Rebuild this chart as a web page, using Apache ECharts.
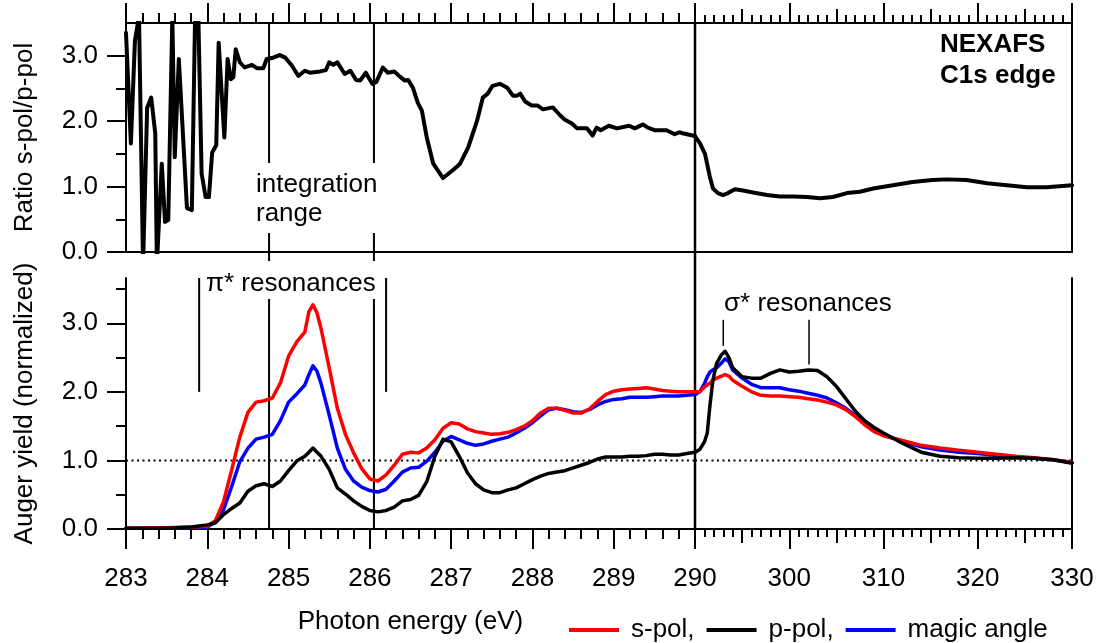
<!DOCTYPE html>
<html>
<head>
<meta charset="utf-8">
<script src="https://cdn.jsdelivr.net/npm/echarts@6/dist/echarts.min.js"></script>
<style>
  html, body { margin: 0; padding: 0; background: #ffffff; }
  #chart { width: 1098px; height: 643px; }
</style>
</head>
<body>
<div id="chart"></div>
<script>
// ---- Ratio s-pol / p-pol (upper panel), below and above the 290 eV break ----
const ratioLowE = [283.0, 283.06, 283.11, 283.16, 283.21, 283.26, 283.31, 283.36, 283.38, 283.44, 283.48, 283.52, 283.57, 283.6, 283.65, 283.75, 283.81, 283.85, 283.89, 283.93, 283.98, 284.02, 284.06, 284.11, 284.14, 284.21, 284.25, 284.29, 284.32, 284.35, 284.4, 284.46, 284.55, 284.61, 284.69, 284.73, 284.81, 284.89, 284.96, 285.04, 285.12, 285.2, 285.26, 285.39, 285.46, 285.5, 285.55, 285.6, 285.69, 285.76, 285.83, 285.88, 285.95, 286.03, 286.08, 286.16, 286.22, 286.3, 286.37, 286.43, 286.47, 286.53, 286.59, 286.64, 286.7, 286.78, 286.9, 287.02, 287.11, 287.21, 287.32, 287.39, 287.45, 287.51, 287.6, 287.69, 287.76, 287.81, 287.85, 287.91, 287.99, 288.06, 288.13, 288.25, 288.34, 288.4, 288.49, 288.55, 288.67, 288.74, 288.79, 288.84, 288.94, 289.04, 289.19, 289.26, 289.36, 289.42, 289.51, 289.65, 289.75, 289.81, 289.86, 289.97, 290.0];
const ratioLow = [3.35, 1.66, 3.23, 3.6, -0.2, 2.2, 2.36, 1.81, -0.2, 1.35, 0.46, 0.49, 3.6, 1.45, 2.95, 0.67, 0.64, 3.6, 3.6, 1.2, 0.84, 0.84, 1.52, 1.63, 3.2, 1.75, 2.95, 2.64, 2.67, 3.1, 2.9, 2.82, 2.86, 2.81, 2.81, 2.95, 2.97, 3.01, 2.97, 2.85, 2.69, 2.77, 2.74, 2.76, 2.78, 2.9, 2.86, 2.9, 2.72, 2.77, 2.63, 2.62, 2.74, 2.57, 2.6, 2.82, 2.74, 2.76, 2.68, 2.62, 2.63, 2.51, 2.28, 2.16, 1.75, 1.35, 1.13, 1.25, 1.35, 1.6, 2.01, 2.36, 2.42, 2.54, 2.57, 2.51, 2.39, 2.39, 2.42, 2.3, 2.24, 2.24, 2.18, 2.21, 2.09, 2.02, 1.96, 1.89, 1.89, 1.78, 1.9, 1.86, 1.93, 1.89, 1.93, 1.89, 1.95, 1.9, 1.86, 1.86, 1.8, 1.83, 1.81, 1.78, 1.77];
const ratioHighE = [290, 290.53, 291.06, 291.59, 291.91, 292.44, 292.97, 293.5, 294.24, 295.09, 296.15, 297.64, 299.01, 300.39, 301.88, 303.26, 304.63, 306.12, 307.5, 308.9, 311, 313.1, 315.2, 316.7, 318.8, 321, 323.1, 325.2, 327.3, 330];
const ratioHigh = [1.77, 1.66, 1.5, 1.14, 0.97, 0.9, 0.87, 0.9, 0.96, 0.94, 0.91, 0.87, 0.85, 0.85, 0.84, 0.82, 0.84, 0.9, 0.92, 0.97, 1.02, 1.07, 1.1, 1.11, 1.1, 1.05, 1.02, 0.99, 0.99, 1.02];

// ---- Auger yield (lower panel) ----
const augerLowE = [283.0, 283.5, 283.8, 284.0, 284.1, 284.2, 284.3, 284.4, 284.5, 284.6, 284.7, 284.8, 284.9, 285.0, 285.1, 285.2, 285.25, 285.3, 285.35, 285.4, 285.5, 285.6, 285.7, 285.8, 285.9, 286.0, 286.1, 286.2, 286.3, 286.4, 286.5, 286.6, 286.7, 286.8, 286.9, 287.0, 287.1, 287.2, 287.3, 287.4, 287.5, 287.6, 287.7, 287.8, 287.9, 288.0, 288.1, 288.2, 288.3, 288.4, 288.5, 288.6, 288.7, 288.8, 288.9, 289.0, 289.1, 289.2, 289.3, 289.4, 289.5, 289.6, 289.7, 289.8, 289.9, 290.0];
const sPolLow = [0.01, 0.02, 0.03, 0.04, 0.12, 0.40, 0.86, 1.34, 1.70, 1.85, 1.87, 1.91, 2.13, 2.52, 2.73, 2.87, 3.17, 3.27, 3.15, 2.92, 2.35, 1.76, 1.38, 1.11, 0.88, 0.73, 0.70, 0.79, 0.93, 1.09, 1.12, 1.11, 1.18, 1.30, 1.47, 1.55, 1.53, 1.46, 1.42, 1.40, 1.38, 1.39, 1.41, 1.45, 1.50, 1.58, 1.69, 1.76, 1.76, 1.73, 1.69, 1.69, 1.75, 1.86, 1.96, 2.01, 2.03, 2.04, 2.05, 2.06, 2.04, 2.02, 2.01, 2.00, 2.00, 2.00];
const pPolLow = [0.01, 0.01, 0.03, 0.06, 0.09, 0.21, 0.30, 0.38, 0.55, 0.63, 0.66, 0.62, 0.70, 0.85, 0.99, 1.06, 1.12, 1.18, 1.12, 1.06, 0.87, 0.60, 0.51, 0.41, 0.33, 0.27, 0.25, 0.27, 0.32, 0.41, 0.43, 0.49, 0.69, 1.06, 1.31, 1.27, 1.06, 0.82, 0.66, 0.57, 0.53, 0.53, 0.57, 0.60, 0.66, 0.72, 0.77, 0.81, 0.83, 0.85, 0.89, 0.93, 0.97, 1.02, 1.05, 1.05, 1.05, 1.06, 1.06, 1.07, 1.09, 1.09, 1.08, 1.08, 1.10, 1.12];
const magicLow = [0.01, 0.01, 0.02, 0.03, 0.10, 0.28, 0.62, 0.98, 1.18, 1.31, 1.34, 1.38, 1.58, 1.85, 1.97, 2.10, 2.25, 2.38, 2.30, 2.12, 1.66, 1.18, 0.87, 0.70, 0.61, 0.56, 0.54, 0.58, 0.70, 0.83, 0.89, 0.90, 0.99, 1.12, 1.28, 1.35, 1.30, 1.25, 1.22, 1.24, 1.28, 1.31, 1.34, 1.40, 1.47, 1.55, 1.65, 1.74, 1.76, 1.74, 1.71, 1.70, 1.74, 1.81, 1.86, 1.89, 1.90, 1.92, 1.92, 1.92, 1.93, 1.94, 1.94, 1.94, 1.95, 1.96];
const augerHighE = [290, 290.5, 291, 291.3, 291.6, 291.9, 292.3, 292.8, 293.2, 293.6, 294, 295, 296, 297, 298, 299, 300, 301, 302, 303, 304, 305, 306, 307, 308, 309, 310, 312, 314, 316, 318, 320, 322, 324, 326, 328, 330];
const sPolHigh = [2.00, 2.00, 2.07, 2.10, 2.13, 2.17, 2.20, 2.23, 2.25, 2.23, 2.17, 2.08, 2.00, 1.95, 1.94, 1.94, 1.93, 1.92, 1.90, 1.88, 1.85, 1.81, 1.74, 1.64, 1.52, 1.42, 1.36, 1.29, 1.22, 1.18, 1.15, 1.12, 1.09, 1.06, 1.04, 1.01, 0.97];
const pPolHigh = [1.12, 1.16, 1.27, 1.40, 1.82, 2.17, 2.42, 2.54, 2.59, 2.50, 2.35, 2.22, 2.20, 2.20, 2.27, 2.32, 2.29, 2.30, 2.32, 2.31, 2.22, 2.08, 1.90, 1.72, 1.58, 1.48, 1.40, 1.25, 1.12, 1.06, 1.04, 1.03, 1.03, 1.04, 1.03, 1.01, 0.96];
const magicHigh = [1.96, 2.00, 2.12, 2.22, 2.29, 2.32, 2.35, 2.42, 2.48, 2.44, 2.32, 2.20, 2.11, 2.06, 2.06, 2.06, 2.03, 2.01, 1.98, 1.95, 1.91, 1.84, 1.76, 1.66, 1.54, 1.44, 1.37, 1.28, 1.20, 1.15, 1.12, 1.10, 1.07, 1.05, 1.03, 1.01, 0.97];

// ---- Reference energies and levels ----
const integrationRange = [284.76, 286.05];
const edgeBreak = 290;
const piMarkers = [283.9, 286.2];
const sigmaMarkers = [293.0, 302.1];
const unityLevel = 1.0;
const ratioTicks = [0, 1, 2, 3];
const ratioMinorTicks = [0.5, 1.5, 2.5];
const augerTicks = [0, 1, 2, 3];
const augerMinorTicks = [0.5, 1.5, 2.5, 3.5];

const FONT = "'Liberation Sans', Arial, Helvetica, sans-serif";
const BLACK = '#000000', RED = '#ff0000', BLUE = '#0000ff';
const AX = { color: BLACK, width: 2 };
const TOP_MAX = 3.5, BOTTOM_MAX = 3.66;
const BRIDGE = -0.4; // upper-panel value that reaches the lower panel's top edge

const pairs = (xs, ys) => xs.map((x, i) => [x, ys[i]]);

function xAxis(gridIndex, position, min, max, opts) {
  return Object.assign({
    gridIndex, position, type: 'value', min, max,
    axisLine: { show: true, onZero: false, lineStyle: AX },
    axisTick: { show: false },
    axisLabel: { show: false },
    splitLine: { show: false },
    minorSplitLine: { show: false }
  }, opts);
}
function yAxis(gridIndex, position, max, opts) {
  return Object.assign({
    gridIndex, position, type: 'value', min: 0, max,
    axisLine: { show: true, onZero: false, lineStyle: AX },
    axisTick: { show: false },
    axisLabel: { show: false },
    splitLine: { show: false }
  }, opts);
}
const tickLabel = { show: true, fontSize: 26, fontFamily: FONT, color: BLACK };

const xAxes = [
  // 0: upper panel, 283-290, ticks on the top edge
  xAxis(0, 'top', 283, edgeBreak, { interval: 1,
    axisTick: { show: true, length: 20, lineStyle: AX },
    minorTick: { show: true, splitNumber: 5, length: 10, lineStyle: AX } }),
  // 1: upper panel, 283-290, bottom frame
  xAxis(0, 'bottom', 283, edgeBreak, {}),
  // 2: upper panel, 290-330, top edge
  xAxis(1, 'top', edgeBreak, 330, { interval: 10,
    axisTick: { show: true, length: 20, lineStyle: AX },
    minorTick: { show: true, splitNumber: 10, length: 8, lineStyle: AX } }),
  // 3: upper panel, 290-330, 5 eV ticks
  xAxis(1, 'top', edgeBreak, 330, { interval: 5, axisLine: { show: false, onZero: false },
    axisTick: { show: true, length: 14, lineStyle: AX } }),
  // 4: upper panel, 290-330, bottom frame
  xAxis(1, 'bottom', edgeBreak, 330, {}),
  // 5: lower panel, 283-290
  xAxis(2, 'bottom', 283, edgeBreak, { interval: 1,
    axisTick: { show: true, length: 20, lineStyle: AX },
    minorTick: { show: true, splitNumber: 5, length: 10, lineStyle: AX },
    axisLabel: Object.assign({ margin: 37 }, tickLabel),
    name: 'Photon energy (eV)', nameLocation: 'middle', nameGap: 80,
    nameTextStyle: { fontSize: 26, fontFamily: FONT, color: BLACK } }),
  // 6: lower panel, 290-330
  xAxis(3, 'bottom', edgeBreak, 330, { interval: 10,
    axisTick: { show: true, length: 20, lineStyle: AX },
    minorTick: { show: true, splitNumber: 10, length: 8, lineStyle: AX },
    axisLabel: Object.assign({ margin: 37, formatter: v => (v === edgeBreak ? '' : String(v)) }, tickLabel) }),
  // 7: lower panel, 290-330, 5 eV ticks
  xAxis(3, 'bottom', edgeBreak, 330, { interval: 5, axisLine: { show: false, onZero: false },
    axisTick: { show: true, length: 14, lineStyle: AX } })
];

const yAxes = [
  // 0: ratio axis
  yAxis(0, 'left', TOP_MAX, {
    axisTick: { show: true, length: 19, lineStyle: AX, customValues: ratioTicks },
    axisLabel: Object.assign({ margin: 28, customValues: ratioTicks, formatter: v => v.toFixed(1) }, tickLabel),
    name: 'Ratio s-pol/p-pol', nameLocation: 'middle', nameGap: 88,
    nameTextStyle: { fontSize: 26, fontFamily: FONT, color: BLACK } }),
  // 1: ratio minor ticks
  yAxis(0, 'left', TOP_MAX, { axisLine: { show: false, onZero: false },
    axisTick: { show: true, length: 10, lineStyle: AX, customValues: ratioMinorTicks } }),
  // 2: upper panel right frame
  yAxis(1, 'right', TOP_MAX, {}),
  // 3: Auger yield axis
  yAxis(2, 'left', BOTTOM_MAX, {
    axisTick: { show: true, length: 19, lineStyle: AX, customValues: augerTicks },
    axisLabel: Object.assign({ margin: 28, customValues: augerTicks, formatter: v => v.toFixed(1) }, tickLabel),
    name: 'Auger yield (normalized)', nameLocation: 'middle', nameGap: 88,
    nameTextStyle: { fontSize: 26, fontFamily: FONT, color: BLACK } }),
  // 4: Auger minor ticks
  yAxis(2, 'left', BOTTOM_MAX, { axisLine: { show: false, onZero: false },
    axisTick: { show: true, length: 10, lineStyle: AX, customValues: augerMinorTicks } }),
  // 5: lower panel right frame
  yAxis(3, 'right', BOTTOM_MAX, {})
];

// axis index pairs for the four plotting areas
const UL = [0, 0], UR = [2, 2], LL = [5, 3], LR = [6, 5];

function curve(name, area, data, color, width, z) {
  return { name, type: 'line', xAxisIndex: area[0], yAxisIndex: area[1], data,
    symbol: 'none', showSymbol: false, clip: true, silent: true, z,
    lineStyle: { color, width, join: 'round', cap: 'round' }, itemStyle: { color } };
}
function rule(area, x, y0, y1, width, z) {
  return { type: 'line', xAxisIndex: area[0], yAxisIndex: area[1], data: [[x, y0], [x, y1]],
    symbol: 'none', clip: false, silent: true, z: z || 1,
    lineStyle: { color: BLACK, width }, itemStyle: { color: BLACK } };
}

const series = [];
// integration range and absorption edge break, crossing both panels
integrationRange.forEach(e => {
  series.push(rule(UL, e, TOP_MAX, BRIDGE, 2));
  series.push(rule(LL, e, 0, BOTTOM_MAX, 2));
});
series.push(rule(UL, edgeBreak, TOP_MAX, BRIDGE, 2.5));
series.push(rule(LL, edgeBreak, 0, BOTTOM_MAX, 2.5));
// resonance markers
piMarkers.forEach(e => series.push(rule(LL, e, 2.0, BOTTOM_MAX, 2)));
series.push(rule(LR, sigmaMarkers[0], 2.67, 3.05, 1.5));
series.push(rule(LR, sigmaMarkers[1], 2.40, 3.05, 1.5));
// unity level
[[LL, 283, edgeBreak], [LR, edgeBreak, 330]].forEach(([a, x0, x1]) => {
  series.push({ type: 'line', xAxisIndex: a[0], yAxisIndex: a[1],
    data: [[x0, unityLevel], [x1, unityLevel]], symbol: 'none', silent: true, z: 1,
    lineStyle: { color: BLACK, width: 2, type: [2, 3.5] } });
});
// ratio
series.push(curve('ratio', UL, pairs(ratioLowE, ratioLow), BLACK, 4, 5));
series.push(curve('ratio', UR, pairs(ratioHighE, ratioHigh), BLACK, 4, 5));
// Auger yields
series.push(curve('magic angle', LL, pairs(augerLowE, magicLow), BLUE, 3.5, 4));
series.push(curve('magic angle', LR, pairs(augerHighE, magicHigh), BLUE, 3.5, 4));
series.push(curve('s-pol', LL, pairs(augerLowE, sPolLow), RED, 3.5, 5));
series.push(curve('s-pol', LR, pairs(augerHighE, sPolHigh), RED, 3.5, 5));
series.push(curve('p-pol', LL, pairs(augerLowE, pPolLow), BLACK, 3.5, 6));
series.push(curve('p-pol', LR, pairs(augerHighE, pPolHigh), BLACK, 3.5, 6));

const txt = (size, weight) => `${weight || 'normal'} ${size}px ${FONT}`;

const option = {
  animation: false,
  backgroundColor: '#ffffff',
  grid: [
    { left: 126, top: 23, width: 569, height: 229 },
    { left: 695, top: 23, width: 377, height: 229 },
    { left: 126, top: 278, width: 569, height: 251 },
    { left: 695, top: 278, width: 377, height: 251 }
  ],
  xAxis: xAxes,
  yAxis: yAxes,
  legend: {
    data: ['s-pol', 'p-pol', 'magic angle'],
    left: 564, top: 612, icon: 'rect', itemWidth: 50, itemHeight: 4, itemGap: 12,
    selectedMode: false,
    formatter: n => (n === 'magic angle' ? n : n + ','),
    textStyle: { fontSize: 26, fontFamily: FONT, color: BLACK, padding: [0, 0, 0, 7] }
  },
  graphic: [
    { type: 'text', left: 252, top: 163, z: 100, silent: true,
      style: { text: 'integration\nrange', font: txt(26), fill: BLACK, lineHeight: 29,
        backgroundColor: '#ffffff', padding: [7, 4, 5, 4] } },
    { type: 'text', left: 203, top: 261, z: 100, silent: true,
      style: { text: 'π* resonances', font: txt(26), fill: BLACK, lineHeight: 28,
        backgroundColor: '#ffffff', padding: [9, 3, 1, 3] } },
    { type: 'text', left: 724, top: 290, z: 100, silent: true,
      style: { text: 'σ* resonances', font: txt(26), fill: BLACK, lineHeight: 28 } },
    { type: 'text', left: 940, top: 29, z: 100, silent: true,
      style: { text: 'NEXAFS\nC1s edge', font: txt(26, 'bold'), fill: BLACK, lineHeight: 31 } }
  ],
  series
};

const chart = echarts.init(document.getElementById('chart'), null, { renderer: 'canvas' });
chart.setOption(option);
</script>
</body>
</html>
